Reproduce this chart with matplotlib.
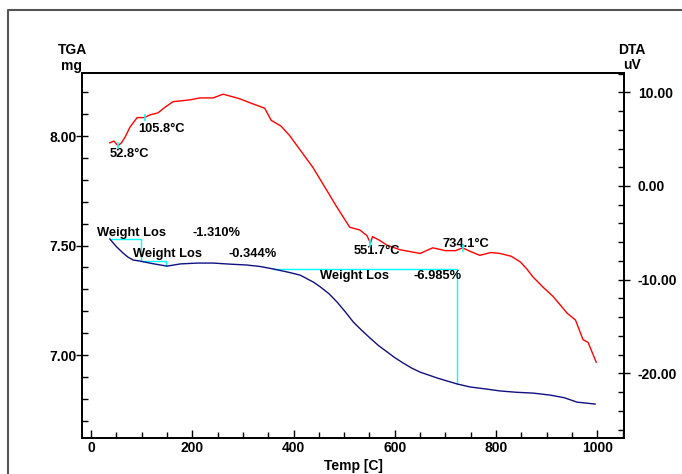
import numpy as np
import matplotlib.pyplot as plt
from matplotlib.lines import Line2D
from matplotlib.ticker import MultipleLocator, FormatStrFormatter

plt.rcParams['font.family'] = ['Liberation Sans', 'DejaVu Sans']
plt.rcParams['font.weight'] = 'bold'

# DTA curve (right axis, uV)
dta_temp = [37, 45, 53, 60, 67, 77, 91, 105, 117, 132, 146, 162, 180, 196, 215, 241,
            261, 281, 294, 318, 343, 356, 375, 392, 415, 438, 465, 485, 511, 531, 545,
            552, 556, 570, 584, 610, 630, 650, 675, 700, 720, 734, 750, 768, 790, 808,
            830, 848, 860, 873, 893, 913, 927, 941, 957, 972, 982, 998]
dta_uv = [4.6, 4.8, 4.3, 4.6, 5.2, 6.3, 7.3, 7.3, 7.6, 7.8, 8.4, 9.0, 9.1, 9.2, 9.4, 9.4,
          9.8, 9.5, 9.3, 8.8, 8.3, 7.0, 6.4, 5.4, 3.7, 2.0, -0.4, -2.2, -4.4, -4.7, -5.3,
          -6.1, -5.4, -5.8, -6.3, -6.8, -7.0, -7.2, -6.6, -6.9, -6.9, -6.6, -7.0, -7.4,
          -7.1, -7.2, -7.5, -8.1, -8.8, -9.7, -10.8, -11.8, -12.7, -13.6, -14.3, -16.4,
          -16.7, -18.8]

# TGA curve (left axis, mg)
tga_temp = [37, 50, 63, 73, 83, 97, 120, 150, 176, 210, 241, 275, 308, 335, 360, 390,
            413, 440, 453, 470, 486, 502, 518, 535, 551, 568, 585, 600, 617, 633, 650,
            684, 723, 749, 780, 808, 840, 874, 907, 935, 960, 980, 996]
tga_mg = [7.530, 7.495, 7.466, 7.447, 7.434, 7.429, 7.418, 7.406, 7.416, 7.420, 7.420,
          7.415, 7.411, 7.404, 7.393, 7.378, 7.365, 7.332, 7.311, 7.280, 7.242, 7.198,
          7.151, 7.112, 7.078, 7.043, 7.014, 6.988, 6.963, 6.941, 6.922, 6.895, 6.868,
          6.854, 6.845, 6.836, 6.830, 6.826, 6.817, 6.805, 6.785, 6.780, 6.776]

# weight loss steps
step_start = [37, 99, 360]
step_end = [99, 148, 723]
step_loss = ['-1.310%', '-0.344%', '-6.985%']

# DTA peak labels
peak_temp = [52.8, 105.8, 551.7, 734.1]
peak_label = ['52.8°C', '105.8°C', '551.7°C', '734.1°C']

fig = plt.figure(figsize=(6.82, 4.74), dpi=100)
ax = fig.add_axes([0.1202, 0.0759, 0.7948, 0.7701])
ax2 = ax.twinx()

ax.plot(tga_temp, tga_mg, color='#101080', lw=1.0, zorder=3)
ax2.plot(dta_temp, dta_uv, color='#ff0000', lw=1.0, zorder=3)

# cyan step boxes for weight loss
for t0, t1 in zip(step_start, step_end):
    m0 = np.interp(t0, tga_temp, tga_mg)
    m1 = np.interp(t1, tga_temp, tga_mg)
    ax.plot([t0, t1, t1], [m0, m0, m1], color='#00ffff', lw=1.0, zorder=2)

# little cyan markers at peaks
for t in peak_temp:
    v = np.interp(t, dta_temp, dta_uv)
    ax2.plot([t, t], [v - 0.3, v + 0.3], color='#00ffff', lw=1.2, zorder=4)

txt = dict(fontsize=9.3, fontweight='bold', va='center', ha='left')
wl_pos = [(12, 7.557, 200), (83, 7.461, 271), (453, 7.361, 638)]
for (x, y, xv), lab in zip(wl_pos, step_loss):
    ax.text(x, y, 'Weight Los', **txt)
    ax.text(xv, y, lab, **txt)

pk_pos = [(37, 3.4), (93, 6.1), (518, -6.9), (694, -6.2)]
for (x, y), lab in zip(pk_pos, peak_label):
    ax2.text(x, y, lab, **txt)

ax.set_xlim(-18, 1053)
ax.set_ylim(6.621, 8.288)
ax2.set_ylim(-26.9, 12.06)

ax.xaxis.set_major_locator(MultipleLocator(200))
ax.xaxis.set_minor_locator(MultipleLocator(50))
ax.yaxis.set_major_locator(MultipleLocator(0.5))
ax.yaxis.set_minor_locator(MultipleLocator(0.1))
ax2.yaxis.set_major_locator(MultipleLocator(10))
ax2.yaxis.set_minor_locator(MultipleLocator(2))
ax.yaxis.set_major_formatter(FormatStrFormatter('%.2f'))
ax2.yaxis.set_major_formatter(FormatStrFormatter('%.2f'))

ax.tick_params(axis='y', which='major', direction='inout', length=8, width=1, pad=0, labelsize=10)
ax.tick_params(axis='y', which='minor', direction='in', length=4, width=1)
ax.tick_params(axis='x', which='major', direction='in', length=6, width=1, pad=2, labelsize=10)
ax.tick_params(axis='x', which='minor', direction='in', length=4, width=1)
ax2.tick_params(axis='y', which='major', direction='inout', length=8, width=1, pad=6, labelsize=10)
ax2.tick_params(axis='y', which='minor', direction='in', length=4, width=1)
for lab in ax.get_xticklabels() + ax.get_yticklabels() + ax2.get_yticklabels():
    lab.set_fontweight('bold')
for sp in ax.spines.values():
    sp.set_linewidth(1.3)
for sp in ax2.spines.values():
    sp.set_linewidth(1.3)

ax.set_xlabel('Temp [C]', fontsize=10, fontweight='bold', labelpad=3)

fig.text(72 / 682, 1 - 50 / 474, 'TGA', fontsize=10, fontweight='bold', ha='center', va='center')
fig.text(72 / 682, 1 - 66 / 474, 'mg', fontsize=10, fontweight='bold', ha='center', va='center')
fig.text(632 / 682, 1 - 50 / 474, 'DTA', fontsize=10, fontweight='bold', ha='center', va='center')
fig.text(632 / 682, 1 - 65 / 474, 'uV', fontsize=10, fontweight='bold', ha='center', va='center')

# outer frame (left and top edges only visible)
fig.add_artist(Line2D([8 / 682, 8 / 682, 1.0], [0.0, 1 - 10 / 474, 1 - 10 / 474],
                      transform=fig.transFigure, color='#555555', lw=1.5))

fig.savefig('out.png', dpi=100)
